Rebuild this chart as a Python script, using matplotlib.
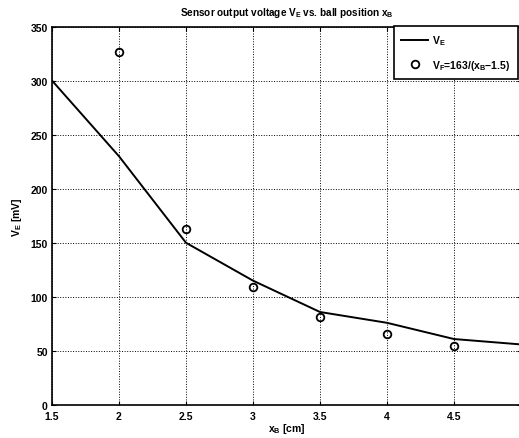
import matplotlib
matplotlib.use('Agg')
import matplotlib.pyplot as plt

plt.rcParams['font.family'] = ['Liberation Sans', 'DejaVu Sans']
plt.rcParams['font.weight'] = 'bold'
plt.rcParams['axes.labelweight'] = 'bold'
plt.rcParams['axes.titleweight'] = 'bold'
plt.rcParams['mathtext.fontset'] = 'custom'
plt.rcParams['mathtext.rm'] = 'Liberation Sans:bold'
plt.rcParams['mathtext.it'] = 'Liberation Sans:bold'
plt.rcParams['mathtext.bf'] = 'Liberation Sans:bold'
plt.rcParams['mathtext.default'] = 'rm'

# measured sensor output
x_meas = [1.5, 2.0, 2.5, 3.0, 3.5, 4.0, 4.5, 5.0]
v_meas = [300, 230, 150, 115, 86, 76, 61, 56]

# fitted points V_F = 163/(x_B - 1.5)
x_fit = [2.0, 2.5, 3.0, 3.5, 4.0, 4.5]
v_fit = [326, 163, 109, 81.5, 65.2, 54.3]

xticks = [1.5, 2, 2.5, 3, 3.5, 4, 4.5]
xticklabels = ['1.5', '2', '2.5', '3', '3.5', '4', '4.5']
yticks = [0, 50, 100, 150, 200, 250, 300, 350]

W, H = 519, 439
fig = plt.figure(figsize=(W / 100, H / 100), dpi=100)
ax = fig.add_axes([52 / W, (H - 406) / H, (521 - 52) / W, (406 - 27.5) / H])

ax.plot(x_meas, v_meas, color='black', lw=1.4, label='V$_E$')
ax.plot(x_fit, v_fit, 'o', mfc='none', mec='black', mew=1.3, ms=5.5,
        label='V$_F$=163/(x$_B$$-$1.5)')

ax.set_xlim(1.5, 5)
ax.set_ylim(0, 350)
ax.set_xticks(xticks)
ax.set_xticklabels(xticklabels)
ax.set_yticks(yticks)
ax.tick_params(direction='in', top=True, right=True, length=3, width=0.8,
               labelsize=7.5)
ax.tick_params(axis='x', pad=4)
ax.tick_params(axis='y', pad=3)
ax.grid(True, color='black', linestyle=':', linewidth=0.7)
for s in ax.spines.values():
    s.set_linewidth(1.2)

ax.set_title('Sensor output voltage V$_E$ vs. ball position x$_B$',
             fontsize=7.2, fontweight='bold', pad=8)
ax.set_xlabel('x$_B$ [cm]', fontsize=7.5, labelpad=0)
ax.set_ylabel('V$_E$ [mV]', fontsize=7.5, labelpad=5)

leg = ax.legend(loc='upper right', bbox_to_anchor=(518 / W, (H - 27) / H),
                bbox_transform=fig.transFigure, fontsize=7.5, fancybox=False,
                framealpha=1, edgecolor='black', handlelength=2.6,
                handletextpad=0.4, borderaxespad=0, borderpad=0.7,
                labelspacing=1.0)
leg.get_frame().set_linewidth(1.2)

fig.savefig('out.png', dpi=100)
